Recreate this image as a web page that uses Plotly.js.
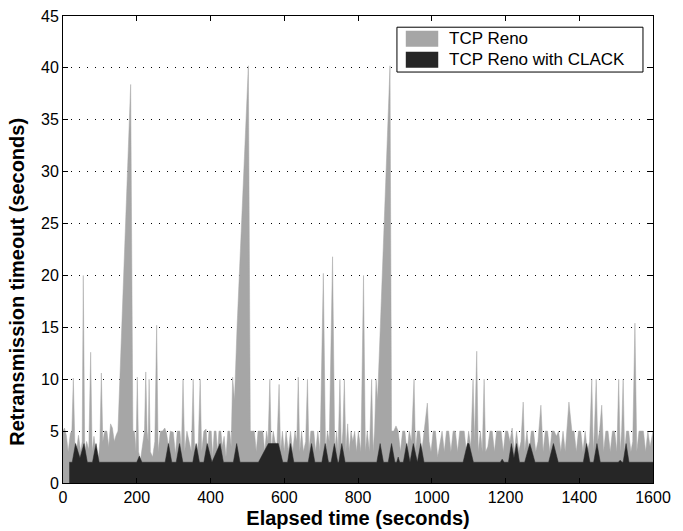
<!DOCTYPE html>
<html>
<head>
<meta charset="utf-8">
<script src="https://cdn.plot.ly/plotly-3.0.1.min.js"></script>
<style>html,body{margin:0;padding:0;background:#fff;}#chart{width:683px;height:531px;}</style>
</head>
<body>
<div id="chart"></div>
<script>
// TCP Reno: elapsed time (s) and retransmission timeout (s)
const renoTime = [
  0,4,9,14,20,24,28,32,36,42,48,52,55,59,64,70,75,79,84,90,96,100,104,108,113,119,124,129,134,139,144,149,
  183.5,189.5,194,198,201.5,205,210,216,221,224.5,228,231,233.5,237,243,249,254,258,264,270,276,281,286,291,
  299,305,310,317,321,325.5,330,336,342,348,353,357,362,367,372,376,382,388,392,396,402,406,410,415,419,423,
  428,432,437,442,447,452,456,460,465,472,502.7,508,513,519,524,529,536,542,547,552,556,561,565,570,575,580,
  586,590,595,600,605,611,617,623,629,634,638,642,647,652,658,663,667,672,680,685,691,697,706,712,717,722,
  731,737,742,746,751,755,759,763,767,772,776,781,786,791,796,801,808,815,820,825,831,837,841,845,849,853,
  860.5,886.8,891,897,903,909,915,921,927,933,939,945,952,956,961,967,973,979,988,993,998,1004,1010,1016,
  1022,1028,1034,1040,1046,1052,1058,1064,1070,1076,1082,1088,1094,1100,1106,1112,1116,1122,1126,1132,1137,1142,
  1146,1152,1158,1164,1170,1176,1182,1188,1194,1200,1206,1212,1218,1224,1230,1236,1242,1248,1252,1258,1264,1270,
  1276,1282,1288,1296,1302,1308,1314,1320,1326,1332,1338,1344,1350,1356,1362,1366,1372,1380,1386,1392,1398,1404,
  1410,1416,1422,1428,1434,1438,1441,1446,1450,1455,1461,1466,1472,1478,1484,1490,1496,1502,1507,1511,1515,1519,
  1523,1528,1534,1540,1545,1551,1556,1562,1568,1574,1580,1586,1592,1600
];
const renoRto = [
  5.0,5.3,4.6,3.0,4.8,5.0,10.1,4.0,3.0,4.6,3.0,4.0,20.0,3.0,4.0,3.2,12.6,3.0,4.5,2.5,2.3,4.0,10.6,4.0,5.0,5.0,3.5,5.7,5.3,4.0,4.6,5.0,
  38.4,5.0,5.0,3.0,10.2,3.0,2.2,4.0,5.0,10.7,5.0,4.0,10.0,3.0,2.5,4.0,15.2,3.0,5.0,5.0,5.3,4.8,3.5,5.0,
  4.9,2.8,5.0,5.0,3.0,10.0,3.0,5.0,4.0,3.0,10.0,3.0,2.5,4.0,10.0,3.0,5.0,5.2,3.0,5.0,5.0,2.5,5.0,5.0,3.0,5.0,
  5.0,3.5,4.5,2.5,5.0,5.0,3.5,10.2,8.0,15.0,40.2,5.0,5.0,5.0,3.0,5.0,5.0,5.0,3.0,5.0,4.0,10.0,3.0,5.0,4.0,3.5,
  9.5,3.0,5.0,3.0,5.0,3.0,5.0,3.0,5.0,4.0,10.2,3.0,5.0,3.0,4.0,10.0,3.0,5.0,5.0,3.0,5.0,3.0,20.2,3.0,5.0,4.0,
  21.8,3.0,5.0,3.0,10.0,3.0,5.0,10.0,3.0,5.7,3.0,5.0,4.0,5.0,3.0,5.0,3.0,20.0,3.0,5.0,3.0,10.0,3.0,5.0,10.0,8.0,
  15.0,40.2,5.0,5.0,5.5,5.0,3.0,5.0,5.0,3.0,5.0,4.0,10.0,3.0,5.0,5.0,3.0,5.0,7.7,4.0,3.0,5.0,5.0,2.5,
  4.0,5.0,3.0,5.0,5.0,3.0,5.0,5.0,3.0,5.0,5.0,5.0,3.0,5.0,3.5,10.0,4.0,12.7,3.0,5.0,3.0,10.0,
  3.0,3.5,5.0,5.0,3.0,5.0,5.0,5.0,3.0,5.0,5.0,4.0,5.3,3.0,5.0,3.0,4.0,7.8,3.0,5.0,3.0,5.0,
  5.0,3.0,4.0,7.5,3.0,5.0,5.0,3.0,5.0,5.0,4.5,5.0,3.0,5.0,3.0,5.0,7.8,5.0,5.0,3.0,5.0,5.0,
  3.0,5.0,3.0,4.0,10.0,3.0,5.0,10.0,4.0,5.0,7.5,3.0,5.0,5.0,3.0,5.0,5.0,3.0,10.0,3.0,5.0,10.0,
  3.0,5.0,5.0,3.0,4.0,15.4,3.0,5.0,5.0,5.0,3.0,5.0,3.5,5.0
];

// TCP Reno with CLACK
const clackTime = [
  17,25,34,46,57,66,80,89.5,98,200,207,214,277,286,295,307,316,325,352,361,370,382,391,404,426,435,
  462,471,480,530,557,584,596,609,617,626,665,674,683,702,711,720,727,736,745,748,756,765,851,860,869,
  882,891,900,905,909,913,923,932,941,950,959,961,970,979,1085,1097,1101,1113,1186,1191,1196,1208,1216,
  1223,1230,1238,1252,1266,1280,1317,1330,1343,1411,1420,1429,1439,1448,1457,1506,1511,1516,1519,1527,1535,1600
];
const clackRto = [
  2,2,3.8,2.4,3.8,2,2,3.8,2,2,2.6,2,2,3.8,2,2,3.8,2,2,3.8,2,2,3.8,2,3.8,2,
  2,3.8,2,2,3.8,3.8,2,2,3.8,2,2,3.8,2,2,3.8,2,2,3.8,2,2,3.8,2,2,3.8,2,
  2,3.8,2,2,2.5,2,2,3.8,2,3.8,2,2,3.8,2,2,3.8,3.8,2,2,2.3,2,2,3.8,
  2.4,3.8,2,2,3.8,2,2,3.8,2,2,3.8,2,2,3.8,2,2,2.2,2,2,3.8,2,2
];

const seriesNames = ['TCP Reno', 'TCP Reno with CLACK'];
const seriesColors = ['#a6a6a6', '#262626'];
const xTicks = [0, 200, 400, 600, 800, 1000, 1200, 1400, 1600];
const yTicks = [0, 5, 10, 15, 20, 25, 30, 35, 40, 45];
const xTitle = 'Elapsed time (seconds)';
const yTitle = 'Retransmission timeout (seconds)';

const FONT = 'Liberation Sans, Arial, Helvetica, sans-serif';

const traces = [
  {x: renoTime, y: renoRto, name: seriesNames[0], type: 'scatter', mode: 'lines',
   fill: 'tozeroy', fillcolor: seriesColors[0], line: {color: seriesColors[0], width: 0.5}, hoverinfo: 'skip'},
  {x: clackTime, y: clackRto, name: seriesNames[1], type: 'scatter', mode: 'lines',
   fill: 'tozeroy', fillcolor: seriesColors[1], line: {color: seriesColors[1], width: 0.5}, hoverinfo: 'skip'}
];

// manual MATLAB-style legend (paper coordinates)
const legBox = {x0: 0.566, x1: 0.983, y0: 0.880, y1: 0.976};
const swX = [0.581, 0.636];
const swY = [[0.934, 0.9685], [0.889, 0.9236]];
const shapes = [
  {type: 'rect', xref: 'paper', yref: 'paper', x0: legBox.x0, x1: legBox.x1, y0: legBox.y0, y1: legBox.y1,
   line: {color: '#000', width: 1}, fillcolor: '#fff', layer: 'above'}
];
const annotations = [];
for (let i = 0; i < 2; i++) {
  shapes.push({type: 'rect', xref: 'paper', yref: 'paper', x0: swX[0], x1: swX[1], y0: swY[i][0], y1: swY[i][1],
    line: {width: 0}, fillcolor: seriesColors[i], layer: 'above'});
  annotations.push({xref: 'paper', yref: 'paper', x: 0.651, y: (swY[i][0] + swY[i][1]) / 2,
    xanchor: 'left', yanchor: 'middle', showarrow: false, text: seriesNames[i],
    font: {family: FONT, size: 17, color: '#000'}});
}
// y-axis label (placed as in the reference, slightly below the axis centre)
annotations.push({xref: 'paper', yref: 'paper', x: -0.077, y: 0.43, textangle: -90,
  xanchor: 'center', yanchor: 'middle', showarrow: false, text: yTitle,
  font: {family: FONT, size: 20, weight: 'bold', color: '#000'}});

const layout = {
  width: 683, height: 531,
  margin: {l: 63, r: 30, t: 16, b: 48, pad: 0},
  paper_bgcolor: '#fff', plot_bgcolor: '#fff',
  showlegend: false,
  font: {family: FONT, size: 16, color: '#000'},
  xaxis: {
    range: [0, 1600], tickvals: xTicks, ticktext: xTicks.map(String),
    ticks: 'inside', ticklen: 5, tickcolor: '#000', tickwidth: 1,
    showline: true, linecolor: '#000', linewidth: 1, mirror: 'ticks',
    showgrid: false, zeroline: false,
    tickfont: {family: FONT, size: 16, color: '#000'},
    title: {text: xTitle, font: {family: FONT, size: 20, weight: 'bold', color: '#000'}, standoff: 5}
  },
  yaxis: {
    range: [0, 45], tickvals: yTicks, ticktext: yTicks.map(String),
    ticks: 'inside', ticklen: 5, tickcolor: '#000', tickwidth: 1,
    showline: true, linecolor: '#000', linewidth: 1, mirror: 'ticks',
    showgrid: true, gridcolor: '#000', gridwidth: 1, griddash: '1px,7px',
    zeroline: false,
    tickfont: {family: FONT, size: 16, color: '#000'}
  },
  shapes: shapes,
  annotations: annotations
};

Plotly.newPlot('chart', traces, layout, {displayModeBar: false, staticPlot: true});
</script>
</body>
</html>
